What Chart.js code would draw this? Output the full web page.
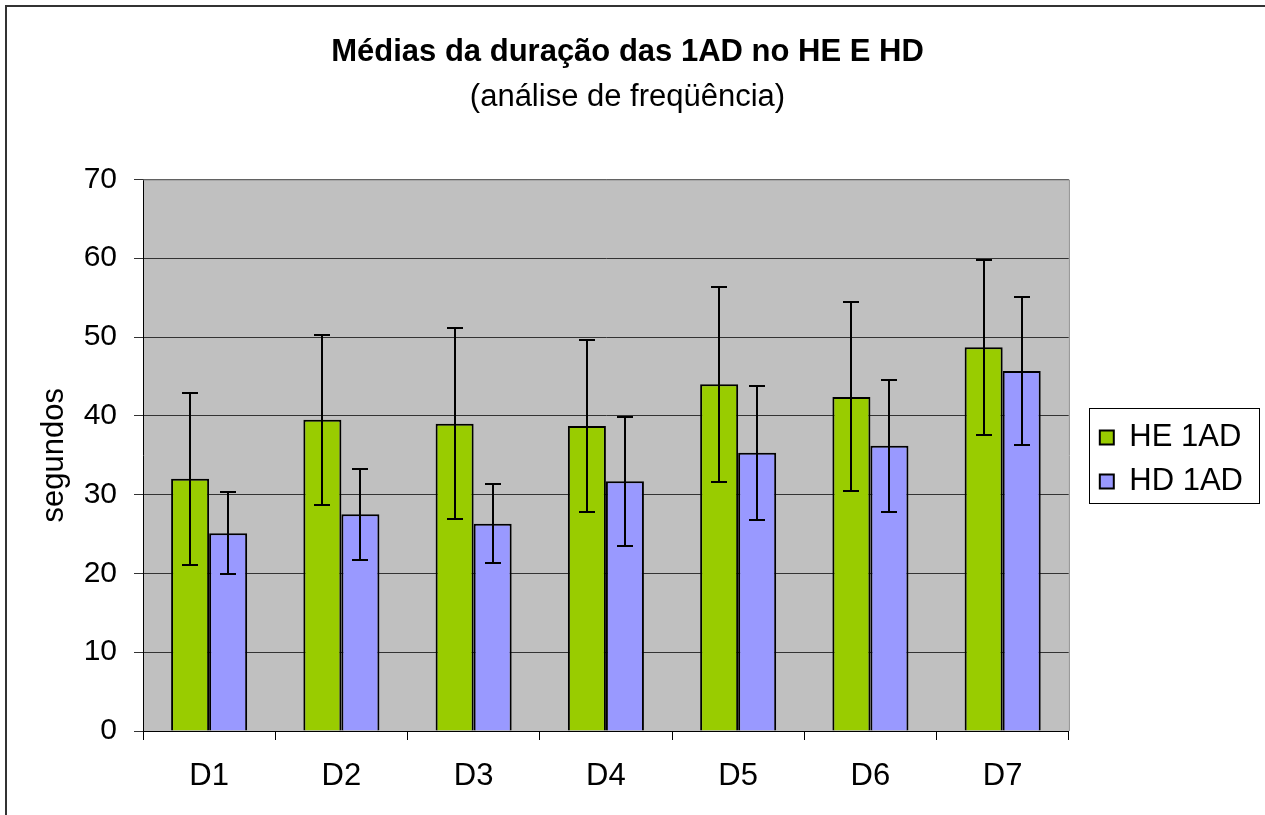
<!DOCTYPE html>
<html>
<head>
<meta charset="utf-8">
<script src="https://cdn.jsdelivr.net/npm/chart.js@4/dist/chart.umd.min.js"></script>
<style>
html,body{margin:0;padding:0;background:#fff;}
#wrap{width:1265px;height:815px;position:relative;}
</style>
</head>
<body>
<div id="wrap"><canvas id="c" width="1265" height="815"></canvas></div>
<script>
const categories = ['D1','D2','D3','D4','D5','D6','D7'];
const heMeans = [32.0, 39.5, 39.0, 38.7, 44.0, 42.4, 48.7];
const heErr   = [10.9, 10.8, 12.1, 10.9, 12.4, 12.0, 11.1];
const hdMeans = [25.1, 27.5, 26.3, 31.7, 35.3, 36.2, 45.7];
const hdErr   = [5.2, 5.8, 5.0, 8.2, 8.5, 8.4, 9.4];
const yTicks = [0,10,20,30,40,50,60,70];

const FONT = "'Liberation Sans', Arial, sans-serif";
const LEG_PAD = 13;

const errorBars = {
  id: 'errorBars',
  afterDatasetsDraw(chart) {
    const ctx = chart.ctx;
    const ys = chart.scales.y;
    ctx.save();
    ctx.strokeStyle = '#000';
    ctx.lineWidth = 2;
    chart.data.datasets.forEach((ds, di) => {
      const meta = chart.getDatasetMeta(di);
      meta.data.forEach((bar, i) => {
        const m = ds.data[i], e = ds.errors[i];
        const x = Math.round(bar.x);
        const yt = Math.round(ys.getPixelForValue(m + e));
        const yb = Math.round(ys.getPixelForValue(m - e));
        ctx.beginPath();
        ctx.moveTo(x, yt); ctx.lineTo(x, yb);
        ctx.moveTo(x - 8, yt); ctx.lineTo(x + 8, yt);
        ctx.moveTo(x - 8, yb); ctx.lineTo(x + 8, yb);
        ctx.stroke();
      });
    });
    ctx.restore();
  }
};

const legendShift = {
  id: 'legendShift',
  afterLayout(chart) {
    const lg = chart.legend;
    if (!lg) return;
    lg.left += 18; lg.right += 18;
    lg.top += 35; lg.bottom += 35;
  }
};

const frame = {
  id: 'frame',
  beforeDraw(chart) {
    const ctx = chart.ctx;
    const a = chart.chartArea;
    ctx.save();
    ctx.fillStyle = '#fff';
    ctx.fillRect(0, 0, chart.width, chart.height);
    ctx.fillStyle = '#C0C0C0';
    ctx.fillRect(a.left, a.top, a.right - a.left, a.bottom - a.top);
    ctx.restore();
  },
  afterDraw(chart) {
    const ctx = chart.ctx;
    const a = chart.chartArea;
    ctx.save();
    ctx.strokeStyle = '#808080';
    ctx.lineWidth = 1;
    ctx.beginPath();
    ctx.moveTo(a.left, a.top + 0.5); ctx.lineTo(a.right + 0.5, a.top + 0.5);
    ctx.lineTo(a.right + 0.5, a.bottom);
    ctx.stroke();
    ctx.strokeStyle = '#333';
    ctx.lineWidth = 2;
    ctx.beginPath();
    ctx.moveTo(6, chart.height); ctx.lineTo(6, 6); ctx.lineTo(chart.width, 6);
    ctx.stroke();
    const lg = chart.legend;
    if (lg && lg.columnSizes && lg.columnSizes.length) {
      const colH = lg.columnSizes[0].height;
      const top0 = (lg.top + LEG_PAD + lg.bottom - colH) / 2;
      const boxLeft = lg.left + LEG_PAD;
      ctx.strokeStyle = '#000';
      ctx.lineWidth = 1;
      ctx.strokeRect(Math.round(boxLeft - 11) + 0.5, Math.round(top0 - 14) + 0.5, 170, 95);
    }
    ctx.restore();
  }
};

new Chart(document.getElementById('c'), {
  type: 'bar',
  data: {
    labels: categories,
    datasets: [
      { label: 'HE 1AD', data: heMeans, errors: heErr, backgroundColor: '#99CC00', borderColor: '#000', borderWidth: 2, borderSkipped: 'bottom' },
      { label: 'HD 1AD', data: hdMeans, errors: hdErr, backgroundColor: '#9999FF', borderColor: '#000', borderWidth: 2, borderSkipped: 'bottom' }
    ]
  },
  options: {
    responsive: false,
    animation: false,
    devicePixelRatio: 1,
    layout: { padding: { top: 34, right: 30, bottom: 0, left: 20 } },
    datasets: { bar: { categoryPercentage: 0.575, barPercentage: 1.0 } },
    plugins: {
      title: { display: true, text: 'Médias da duração das 1AD no HE E HD', color: '#000', font: { family: FONT, size: 31, weight: 'bold' }, padding: { top: 0, bottom: 8 } },
      subtitle: { display: true, text: '(análise de freqüência)', color: '#000', font: { family: FONT, size: 31, weight: 'normal' }, padding: { top: 0, bottom: 63 } },
      legend: {
        position: 'right',
        align: 'center',
        labels: { color: '#000', font: { family: FONT, size: 31 }, boxWidth: 14, boxHeight: 14, padding: LEG_PAD, usePointStyle: false }
      },
      tooltip: { enabled: false }
    },
    scales: {
      x: {
        afterFit(axis) { axis.height = 84; },
        grid: { display: true, drawOnChartArea: false, drawTicks: true, tickLength: 9, offset: true, color: '#000' },
        border: { display: true, color: '#000', width: 1 },
        ticks: { color: '#000', font: { family: FONT, size: 31 }, padding: 18 }
      },
      y: {
        min: 0, max: 70,
        afterFit(axis) { axis.width = 123; },
        afterBuildTicks(axis) { axis.ticks = yTicks.map(v => ({ value: v })); },
        grid: { color: '#333', lineWidth: 1, drawTicks: true, tickLength: 9 },
        border: { display: true, color: '#000', width: 1 },
        ticks: { color: '#000', font: { family: FONT, size: 30 }, padding: 17 },
        title: { display: true, text: 'segundos', color: '#000', font: { family: FONT, size: 31 }, padding: { top: 16, bottom: 0 } }
      }
    }
  },
  plugins: [legendShift, frame, errorBars]
});
</script>
</body>
</html>
